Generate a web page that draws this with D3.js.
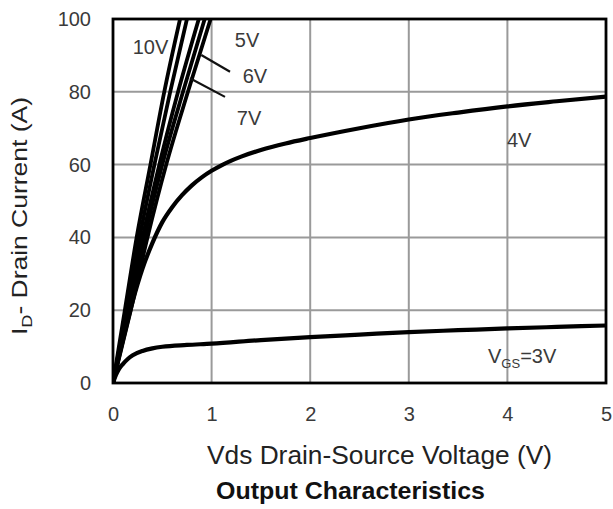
<!DOCTYPE html>
<html><head><meta charset="utf-8">
<script src="https://cdn.jsdelivr.net/npm/d3@7"></script>
<style>body{margin:0;background:#fff}svg{display:block}text{font-family:"Liberation Sans",Arial,sans-serif}</style>
</head><body>
<svg id="c" width="613" height="509"></svg>
<script>
const xTicks = [0,1,2,3,4,5];
const yTicks = [0,20,40,60,80,100];
const series = [
  {name:"3V", pts:[[0,0],[0.03,2.2],[0.06,3.8],[0.1,5.2],[0.15,6.6],[0.2,7.6],[0.3,8.8],[0.4,9.5],[0.5,9.95],[0.75,10.45],[1,10.8],[1.5,11.8],[2,12.6],[2.5,13.3],[3,14],[3.5,14.5],[4,15],[4.5,15.4],[5,15.8]]},
  {name:"4V", pts:[[0,0],[0.05,6],[0.1,11.7],[0.2,22.5],[0.3,31.5],[0.4,38.5],[0.5,44.2],[0.6,48.3],[0.7,51.6],[0.8,54.3],[0.9,56.5],[1,58.3],[1.1,59.8],[1.2,61.1],[1.3,62.2],[1.5,64],[1.75,65.8],[2,67.3],[2.5,70],[3,72.4],[3.5,74.3],[4,76],[4.5,77.4],[5,78.7]]},
  {name:"5V", pts:[[0,0],[0.18,20],[0.35,40],[0.54,60],[0.76,80],[0.99,100]]},
  {name:"6V", pts:[[0,0],[0.165,20],[0.32,40],[0.5,60],[0.71,80],[0.93,100]]},
  {name:"7V", pts:[[0,0],[0.15,20],[0.3,40],[0.47,60],[0.66,80],[0.87,100]]},
  {name:"8V", pts:[[0,0],[0.135,20],[0.27,40],[0.42,60],[0.58,80],[0.75,100]]},
  {name:"10V", pts:[[0,0],[0.12,20],[0.24,40],[0.38,60],[0.52,80],[0.68,100]]}
];
// curve labels: [text, vds, id]
const labels = [["10V",0.38,90.5],["5V",1.36,92.2],["6V",1.44,82.4],["7V",1.38,70.9],["4V",4.12,64.7]];
// leader lines [x1,y1,x2,y2] in data units
const leaders = [[0.895,90.1,1.187,85.5],[0.78,83.7,1.136,78.6]];

const svg = d3.select("#c");
const L=113, R=606, T=19, B=383;
const x = d3.scaleLinear().domain([0,5]).range([L,R]);
const y = d3.scaleLinear().domain([0,100]).range([B,T]);

svg.append("defs").append("clipPath").attr("id","clip")
  .append("rect").attr("x",L).attr("y",T).attr("width",R-L).attr("height",B-T);

// grid
svg.append("g").selectAll("line").data(xTicks.slice(1,-1)).join("line")
  .attr("x1",d=>x(d)).attr("x2",d=>x(d)).attr("y1",T).attr("y2",B)
  .attr("stroke","#9a9a9a").attr("stroke-width",2);
svg.append("g").selectAll("line").data(yTicks.slice(1,-1)).join("line")
  .attr("y1",d=>y(d)).attr("y2",d=>y(d)).attr("x1",L).attr("x2",R)
  .attr("stroke","#9a9a9a").attr("stroke-width",2);

// axes tick labels
const xa = svg.append("g").attr("transform",`translate(0,${B})`)
  .call(d3.axisBottom(x).tickValues(xTicks).tickFormat(d3.format("d")).tickSize(0).tickPadding(24));
const ya = svg.append("g").attr("transform",`translate(${L},0)`)
  .call(d3.axisLeft(y).tickValues(yTicks).tickFormat(d3.format("d")).tickSize(0).tickPadding(22));
[xa,ya].forEach(a=>{a.select(".domain").remove();
  a.selectAll("text").attr("font-size",20).attr("fill","#3a3a3a").attr("font-family","'Liberation Sans',Arial,sans-serif");});

// curves
const line = d3.line().x(d=>x(d[0])).y(d=>y(d[1])).curve(d3.curveMonotoneX);
svg.append("g").attr("clip-path","url(#clip)").selectAll("path").data(series).join("path")
  .attr("d",d=>line(d.pts)).attr("fill","none").attr("stroke","#000")
  .attr("stroke-width",d=>(d.name==="3V"||d.name==="4V")?4.2:3.8).attr("stroke-linejoin","round");

// leaders
svg.append("g").selectAll("line").data(leaders).join("line")
  .attr("x1",d=>x(d[0])).attr("y1",d=>y(d[1])).attr("x2",d=>x(d[2])).attr("y2",d=>y(d[3]))
  .attr("stroke","#111").attr("stroke-width",2.2);

// frame
svg.append("rect").attr("x",L).attr("y",T).attr("width",R-L).attr("height",B-T)
  .attr("fill","none").attr("stroke","#000").attr("stroke-width",2.8);

// curve labels
svg.append("g").selectAll("text").data(labels).join("text")
  .attr("x",d=>x(d[1])).attr("y",d=>y(d[2])).attr("text-anchor","middle")
  .attr("font-size",20).attr("fill","#3a3a3a").text(d=>d[0]);
const vg = svg.append("text").attr("x",488).attr("y",363)
  .attr("font-size",20).attr("fill","#3a3a3a");
vg.append("tspan").text("V");
vg.append("tspan").attr("font-size",13).attr("dy",5).text("GS");
vg.append("tspan").attr("dy",-5).text("=3V");

// axis titles
svg.append("text").attr("x",379.5).attr("y",464).attr("text-anchor","middle")
  .attr("font-size",26).attr("fill","#222").attr("textLength",345).attr("lengthAdjust","spacingAndGlyphs")
  .text("Vds Drain-Source Voltage (V)");
svg.append("text").attr("x",350.5).attr("y",499).attr("text-anchor","middle")
  .attr("font-size",24).attr("font-weight","bold").attr("fill","#111").attr("textLength",269).attr("lengthAdjust","spacingAndGlyphs")
  .text("Output Characteristics");
const yt = svg.append("text").attr("transform",`translate(27,216) rotate(-90)`)
  .attr("font-size",22).attr("fill","#222");
yt.append("tspan").text("I");
yt.append("tspan").attr("font-size",15).attr("dy",5).text("D");
yt.append("tspan").attr("dy",-5).text("- Drain Current (A)");
// fit y title to measured span
const bb = yt.node().getBBox();
const s = 238/bb.width;
yt.attr("transform",`translate(27,216) rotate(-90) scale(${s},1) translate(${-bb.width/2},0)`);
</script>
</body></html>
